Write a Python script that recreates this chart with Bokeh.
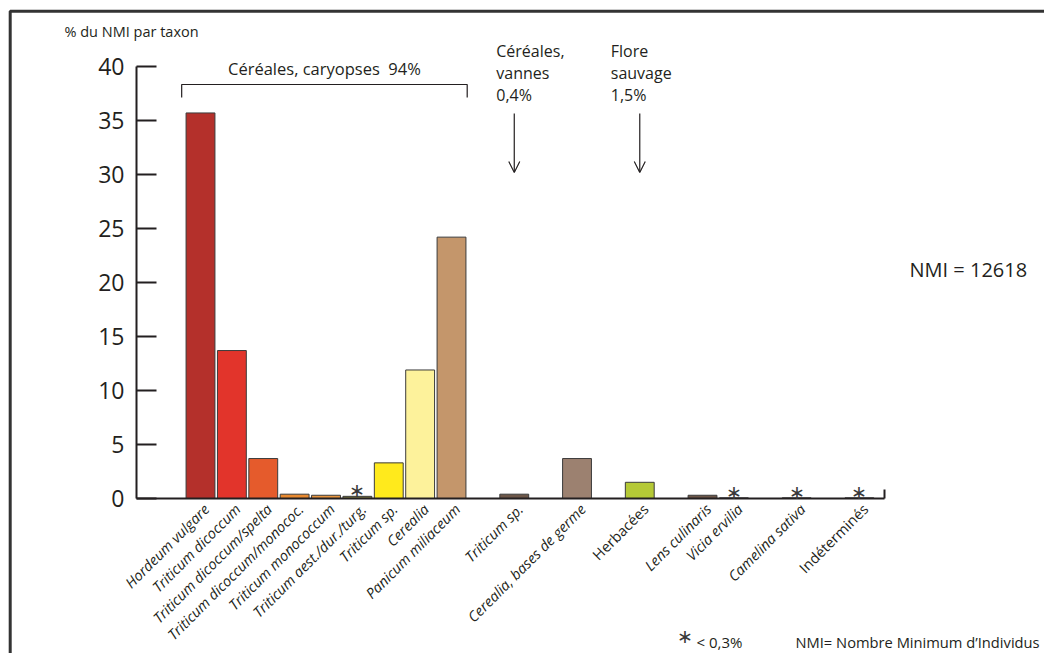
import math
from bokeh.plotting import figure
from bokeh.models import ColumnDataSource, FixedTicker, Range1d, Arrow, OpenHead
from bokeh.core.properties import value
from bokeh.embed import file_html
from bokeh.resources import INLINE

# ---------------- data ----------------
taxa = ["Hordeum vulgare", "Triticum dicoccum", "Triticum dicoccum/spelta",
        "Triticum dicoccum/monococ.", "Triticum monococcum", "Triticum aest./dur./turg.",
        "Triticum sp.", "Cerealia", "Panicum miliaceum",
        "Triticum sp.", "Cerealia, bases de germe", "Herbacées",
        "Lens culinaris", "Vicia ervilia", "Camelina sativa", "Indéterminés"]
pct = [35.7, 13.7, 3.7, 0.4, 0.3, 0.2, 3.3, 11.9, 24.2,
       0.4, 3.7, 1.5, 0.3, 0.06, 0.06, 0.06]
under_03 = [False, False, False, False, False, True, False, False, False,
            False, False, False, False, True, True, True]
groups = ["cereal"] * 9 + ["vannes", "vannes", "sauvage", "autre", "autre", "autre", "autre"]
y_ticks = [0, 5, 10, 15, 20, 25, 30, 35, 40]

# ---------------- styles ----------------
colors = ["#b4302b", "#e2342b", "#e55b2c", "#e8892f", "#e9963f", "#8a8846",
          "#ffea1c", "#fdf29b", "#c4966b",
          "#6d5749", "#9c8170", "#b5c936", "#6d5749", "#555555", "#555555", "#555555"]
styles = ["italic"] * 10 + ["italic", "normal", "italic", "italic", "italic", "normal"]
# slots between consecutive bars (layout)
steps = [0, 1, 1, 1, 1, 1, 1, 1, 1, 2, 2, 2, 2, 1, 2, 2]
xs = []
acc = 0
for s in steps:
    acc += s
    xs.append(acc)

INK = "#231f20"
FONT = value("Open Sans")
STAR = "\u2217"

W, H = 1044, 653
FL, FT, FR, FB = 136, 66, 160, 155
X0, X1 = -2.04, 21.8
Y0, Y1 = 0, 40
PPX = (W - FL - FR) / (X1 - X0)
PPY = (H - FT - FB) / (Y1 - Y0)


def xd(px):
    return X0 + (px - FL) / PPX


def yd(py):
    return Y1 - (py - FT) / PPY


p = figure(width=W, height=H, output_backend="svg", toolbar_location=None,
           x_range=Range1d(X0, X1), y_range=Range1d(Y0, Y1),
           min_border_left=FL, min_border_right=FR, min_border_top=FT, min_border_bottom=FB)
p.outline_line_color = None
p.xgrid.visible = False
p.ygrid.visible = False
p.background_fill_color = "white"
p.border_fill_color = "white"

# y axis
ya = p.yaxis[0]
ya.ticker = FixedTicker(ticks=y_ticks)
ya.major_tick_in = 20
ya.major_tick_out = 0
ya.minor_tick_line_color = None
ya.axis_line_width = 2
ya.major_tick_line_width = 2
ya.axis_line_color = INK
ya.major_tick_line_color = INK
ya.major_label_text_font = "Open Sans"
ya.major_label_text_font_size = "23px"
ya.major_label_text_color = INK
ya.major_label_standoff = 12

# x axis (baseline with closing tick)
xa = p.xaxis[0]
xa.ticker = FixedTicker(ticks=[X1])
xa.major_tick_in = 9
xa.major_tick_out = 0
xa.minor_tick_line_color = None
xa.axis_line_width = 2
xa.major_tick_line_width = 2
xa.axis_line_color = INK
xa.major_tick_line_color = INK
xa.major_label_text_alpha = 0

src = ColumnDataSource(dict(x=xs, top=pct, taxon=taxa, color=colors, style=styles))
p.vbar(x="x", top="top", width=0.92, fill_color="color", line_color="#3b3b3b",
       line_width=1, source=src)

p.text(x="x", y=0, text="taxon", angle=math.pi / 4, text_align="right",
       text_baseline="middle", x_offset=6, y_offset=8, text_font=FONT,
       text_font_size="14.5px", text_font_style="style", text_color=INK,
       source=src, level="overlay")

star_src = ColumnDataSource(dict(x=[x for x, u in zip(xs, under_03) if u],
                                 y=[v for v, u in zip(pct, under_03) if u]))
p.text(x="x", y="y", text=value(STAR), text_align="center", text_baseline="middle",
       y_offset=-6, text_font=FONT, text_font_size="19px", text_color="#3a3a3a",
       source=star_src, level="overlay")

# bracket over cereal grains
cx = [x for x, g in zip(xs, groups) if g == "cereal"]
bx0, bx1 = min(cx) - 0.6, max(cx) + 0.5
p.line(x=[bx0, bx0, bx1, bx1], y=[yd(97), yd(84), yd(84), yd(97)],
       line_color=INK, line_width=1.2, level="overlay")
p.text(x=[(bx0 + bx1) / 2], y=[yd(68)], text=["Céréales, caryopses\u00a0\u00a094%"],
       text_align="center", text_baseline="alphabetic", text_font=FONT,
       text_font_size="16.5px", text_color=INK, level="overlay")

# arrows with group notes
x_vannes = xs[9]
x_sauv = xs[11]
for xa_, lines, dx in [(x_vannes, ["Céréales,", "vannes", "0,4%"], -18),
                       (x_sauv, ["Flore", "sauvage", "1,5%"], -29)]:
    p.text(x=[xa_ + dx / PPX] * 3, y=[yd(50), yd(72), yd(94)], text=lines,
           text_align="left", text_baseline="alphabetic", text_font=FONT,
           text_font_size="16px", text_color=INK, level="overlay")
    p.add_layout(Arrow(x_start=xa_, y_start=yd(113), x_end=xa_, y_end=yd(172),
                       line_color=INK, line_width=1.2,
                       end=OpenHead(size=11, line_color=INK, line_width=1.2)))

# other texts
p.text(x=[xd(64)], y=[yd(31)], text=["% du NMI par taxon"], text_align="left",
       text_baseline="alphabetic", text_font=FONT, text_font_size="14.5px",
       text_color=INK, level="overlay")
p.text(x=[xd(909)], y=[yd(269)], text=["NMI = 12618"], text_align="left",
       text_baseline="alphabetic", text_font=FONT, text_font_size="20px",
       text_color=INK, level="overlay")
p.text(x=[xd(684)], y=[yd(635)], text=[STAR], text_align="center",
       text_baseline="middle", text_font=FONT, text_font_size="19px",
       text_color="#3a3a3a", level="overlay")
p.text(x=[xd(696)], y=[yd(641)], text=["< 0,3%"], text_align="left",
       text_baseline="alphabetic", text_font=FONT, text_font_size="15px",
       text_color=INK, level="overlay")
p.text(x=[xd(795)], y=[yd(641)], text=["NMI= Nombre Minimum d\u2019Individus"],
       text_align="left", text_baseline="alphabetic", text_font=FONT,
       text_font_size="14.7px", text_color=INK, level="overlay")

# picture frame (top and left edges)
p.line(x=[xd(9.7), xd(9.7), xd(1100)], y=[yd(700), yd(10.7), yd(10.7)],
       line_color="#333333", line_width=3, level="overlay")

open("out.html", "w").write(file_html(p, INLINE))
